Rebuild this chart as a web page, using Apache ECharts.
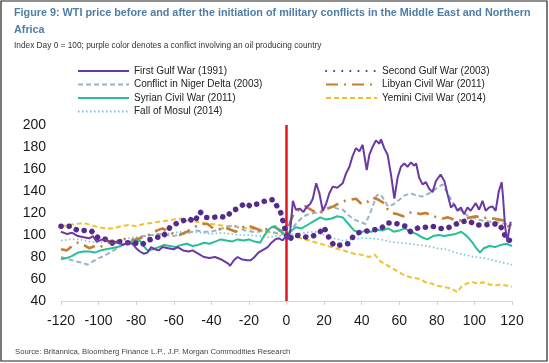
<!DOCTYPE html>
<html>
<head>
<meta charset="utf-8">
<script src="https://cdn.jsdelivr.net/npm/echarts@6/dist/echarts.min.js"></script>
<style>
html,body{margin:0;padding:0;background:#fff;}
#c{width:549px;height:363px;}
</style>
</head>
<body>
<div id="c"></div>
<script>
// ---- Data (day relative to conflict start, WTI index day 0 = 100) ----
var xTicks = [-120,-100,-80,-60,-40,-20,0,20,40,60,80,100,120];
var yTicks = [40,60,80,100,120,140,160,180,200];

var firstGulfDays = [-120,-117,-114,-111,-108,-105,-103,-101,-98,-95,-93,-90,-87,-85,-82,-80,-78,-76,-74,-72,-70,-68,-66,-63,-60,-58,-55,-52,-50,-47,-44,-41,-38,-35,-33,-31,-30,-28,-26,-24,-21,-19,-17,-15,-12,-10,-8,-6,-4,-2,0,1,2,3.4,5,7,9,11,12.5,14,15.8,17.5,19.3,21,22.8,24.6,27,29.9,31.7,33.5,35.2,37,38.8,40.5,42.7,44.1,45.8,47.6,49.4,50.3,52,53.8,55.6,57.4,59.1,60.9,62.7,64.4,66.2,68,69,70.6,72.4,74.2,75.9,77.7,79.5,82,84,85.7,87.5,89.2,91,92.8,94.5,96.3,98,100.7,102.5,104.3,106,107.8,109.6,111.3,113,114.5,115.2,116.3,117.5,118.4,119.3];
var firstGulfVals = [103,101,102,99,98,97,99,94,96,95,92,94,91,93,92,88,85,83,84,89,87,86,89,88,87,89,86,85,86,83,80,79,80,78,76,74,72,77,80,78,77,77,80,84,87,89,93,96,97,95,100,96,104,131,123,124,121,126,128,133,147,138,122,128,138,144,143,147,156,162,172,179,176,182,159,173,180,186,183,187,179,173,155,133,152,162,165,162,166,163,165,152,146,148,142,139,149,155,149,137,125,128,122,125,119,125,122,129,123,131,122,125,126,122,140,148,135,108,94,104,112];

var secondGulfDays = [-120,-115,-111,-107,-104,-100,-96,-92,-89,-85,-81,-77,-74,-69,-66,-62,-58,-52,-49,-46,-43,-39,-36,-32,-29,-26,-22,-19,-16,-14,-10,-7,-5,-3,-1.5,0,1,4,8,11,14,17.5,20,23,25.5,29,32.6,35.2,38,41,44,47.6,50.3,53.8,57.4,61,63.5,66,70.6,74,77.7,81,85,88,92.8,97,100.7,105,109.6,113,115,117,119];
var secondGulfVals = [108,108,104,104,104,97,96,92,94,93,93,91,95,98,98,107,111,115,112,121,116,116,117,116,122,124,129,126,128,129,132,132,126,120,110,100,95,100,99,98,99,102,107,96,90,91,92,98,102,103,104,105,106,111,111,109,108,103,107,107,108,106,106,108,112,113,109,109,110,110,105,96,95];

var nigerDays = [-120,-116,-112,-109,-106,-103,-100,-97,-94,-91,-88,-85,-82,-79,-76,-72,-68,-64,-60,-56,-52,-48,-44,-40,-36,-32,-28,-25,-22,-18,-15,-12,-9,-6,-3,0,3,6,9,12,15,18,21,24,27,30,33,36,39,42,45,48,50,52,54,57,60,63,66,69,72,75,78,81,83,85,87,89,91,93,96,99,102,105,108,111,114,117,120];
var nigerVals = [80,78,76,75,73,76,79,81,84,87,90,93,95,98,99,100,101,100,99,101,102,104,103,103,105,107,109,106,104,103,103,104,103,102,101,100,106,112,117,119,120,121,124,126,124,123,118,114,112,110,122,136,137,132,126,128,132,136,138,136,135,137,140,144,146,140,134,128,124,122,118,116,114,113,112,112,111,110,109];

var libyaDays = [-120,-117,-114,-111,-108,-105,-102,-99,-96,-93,-90,-87,-84,-81,-78,-75,-72,-69,-66,-63,-60,-57,-54,-51,-48,-45,-42,-39,-36,-33,-30,-27,-24,-21,-18,-15,-12,-9,-6,-3,0,2,4,7,10,13,16,19,22,25,28,31,34,37,40,43,46,49,52,54,56,59,62,65,68,71,74,77,80,83,86,89,92,95,98,101,104,107,110,113,116,118,120];
var libyaVals = [87,86,90,93,91,88,90,89,92,95,93,96,97,95,97,99,101,104,106,103,101,100,102,105,108,110,110,106,105,107,105,103,106,109,107,105,103,108,107,104,100,112,120,123,126,123,120,121,124,126,129,131,132,133,128,130,134,132,129,123,120,119,117,120,121,119,120,118,116,115,116,114,113,115,116,117,115,116,115,114,113,108,105];

var syriaDays = [-120,-117,-114,-111,-108,-105,-102,-99,-96,-93,-90,-87,-84,-81,-78,-76,-74,-71,-68,-65,-62,-59,-56,-53,-50,-47,-44,-41,-38,-35,-32,-29,-26,-23,-20,-17,-14,-12,-10,-8,-6,-4,-2,0,2,5,8,12,15,18,21,24,27,30,33,36,39,42,45,48,51,54,57,60,63,66,69,72,75,78,81,84,87,90,93,96,99,101,103,105,108,111,114,117,120];
var syriaVals = [78,79,81,84,85,85,84,86,87,88,89,91,93,94,95,90,86,87,89,91,90,89,91,92,90,91,93,92,94,96,95,94,96,95,96,94,93,99,104,107,108,104,102,100,103,107,106,110,113,116,114,115,117,116,110,104,102,104,103,105,104,106,103,104,106,103,101,98,96,99,100,99,100,101,103,99,93,88,84,88,90,89,91,92,90];

var mosulDays = [-120,-115,-110,-105,-100,-95,-90,-85,-80,-75,-70,-65,-60,-55,-50,-45,-40,-35,-30,-25,-20,-15,-10,-5,0,5,10,15,20,25,30,35,40,45,50,55,60,65,70,75,80,85,90,95,100,105,110,115,120];
var mosulVals = [95,96,96,94,93,94,95,97,98,99,100,101,102,103,103,102,101,102,101,100,100,99,98,99,100,101,102,103,100,97,95,96,97,97,96,94,93,92,91,90,88,87,84,82,80,79,77,75,73];

var yemenDays = [-120,-116,-112,-108,-104,-100,-96,-92,-88,-84,-80,-76,-72,-68,-64,-60,-56,-52,-48,-44,-40,-36,-32,-28,-24,-20,-16,-12,-8,-4,0,4,8,12,16,20,24,28,32,36,40,44,47,50,53,56,59,62,65,68,71,74,77,80,83,86,89,91,93,96,99,102,105,108,111,114,117,120];
var yemenVals = [108,109,110,111,109,107,106,106,108,109,108,110,111,112,113,114,115,113,112,111,110,109,108,108,107,106,105,104,102,101,100,99,97,95,93,91,89,87,85,83,82,80,82,76,73,70,67,64,62,61,60,57,56,54,53,52,50,48,53,56,57,56,57,55,54,55,54,53];

function pairs(d, v){ return d.map(function(x,i){ return [x, v[i]]; }); }

var chart = echarts.init(document.getElementById('c'), null, {renderer:'canvas'});
var font = "'Liberation Sans',Arial,sans-serif";

function mk(name, d, v, color, width, type, z, cap){
  return {
    name: name, type: 'line', data: pairs(d, v), symbol: 'none', smooth: false,
    z: z, silent: true,
    lineStyle: {color: color, width: width, type: type, cap: cap || 'butt'},
    itemStyle: {color: color}
  };
}

var series = [
  mk('Yemini Civil War (2014)', yemenDays, yemenVals, '#f2c12e', 2, [5,3], 2),
  mk('Fall of Mosul (2014)', mosulDays, mosulVals, '#72c3dc', 1.6, [1.5,2.5], 2),
  mk('Conflict in Niger Delta (2003)', nigerDays, nigerVals, '#9db2c6', 2, [5,3], 3),
  mk('Libyan Civil War (2011)', libyaDays, libyaVals, '#c27f35', 2.6, [12,6,2,6], 3),
  mk('Syrian Civil War (2011)', syriaDays, syriaVals, '#27bf98', 2, 'solid', 4),
  mk('Second Gulf War (2003)', secondGulfDays, secondGulfVals, '#552a8a', 5.5, [0.1,8], 5, 'round'),
  mk('First Gulf War (1991)', firstGulfDays, firstGulfVals, '#6a3aa2', 2, 'solid', 6)
];
series[6].markLine = {
  silent: true, symbol: ['none','none'], label: {show:false},
  lineStyle: {color:'#e3161d', width: 2.5, type:'solid'},
  data: [{xAxis: 0}]
};

var legendBase = {
  orient: 'vertical', itemWidth: 51, itemHeight: 12, itemGap: 3.5,
  textStyle: {fontFamily: font, fontSize: 10, color: '#222'},
  itemStyle: {opacity: 0},
  selectedMode: false
};

chart.setOption({
  animation: false,
  backgroundColor: '#fff',
  title: [
    {text: 'Figure 9: WTI price before and after the initiation of military conflicts in the Middle East and Northern\nAfrica',
     left: 14, top: 5, padding: 0,
     textStyle: {fontFamily: font, fontWeight: 'bold', fontSize: 10.8, lineHeight: 17, color: '#4d7ea8'}},
    {text: 'Index Day 0 = 100; purple color denotes a conflict involving an oil producing country',
     left: 14, top: 42, padding: 0,
     textStyle: {fontFamily: font, fontWeight: 'normal', fontSize: 8.3, color: '#333'}},
    {text: 'Source: Britannica, Bloomberg Finance L.P., J.P. Morgan Commodities Research',
     left: 15, top: 348, padding: 0,
     textStyle: {fontFamily: font, fontWeight: 'normal', fontSize: 7.7, color: '#444'}}
  ],
  legend: [
    Object.assign({}, legendBase, {left: 77, top: 66, padding: 0,
      data: ['First Gulf War (1991)','Conflict in Niger Delta (2003)','Syrian Civil War (2011)','Fall of Mosul (2014)']}),
    Object.assign({}, legendBase, {left: 325, top: 66, padding: 0,
      data: ['Second Gulf War (2003)','Libyan Civil War (2011)','Yemini Civil War (2014)']})
  ],
  grid: {left: 61, right: 37, top: 125, bottom: 62, containLabel: false},
  xAxis: {
    type: 'value', min: xTicks[0], max: xTicks[xTicks.length-1], interval: 20,
    axisLine: {show: true, onZero: false, lineStyle: {color: '#d6d6d6', width: 1}},
    axisTick: {show: true, length: 4, lineStyle: {color: '#d0d0d0'}},
    splitLine: {show: false},
    axisLabel: {fontFamily: font, fontSize: 14, color: '#1a1a1a', margin: 13}
  },
  yAxis: {
    type: 'value', min: yTicks[0], max: yTicks[yTicks.length-1], interval: 20,
    axisLine: {show: false}, axisTick: {show: false}, splitLine: {show: false},
    axisLabel: {fontFamily: font, fontSize: 14, color: '#1a1a1a', margin: 15}
  },
  graphic: [
    {type: 'rect', shape: {x: 1, y: 1, width: 546, height: 360}, style: {fill: 'none', stroke: '#222', lineWidth: 1.2}, silent: true, z: 100}
  ],
  series: series
});
</script>
</body>
</html>
